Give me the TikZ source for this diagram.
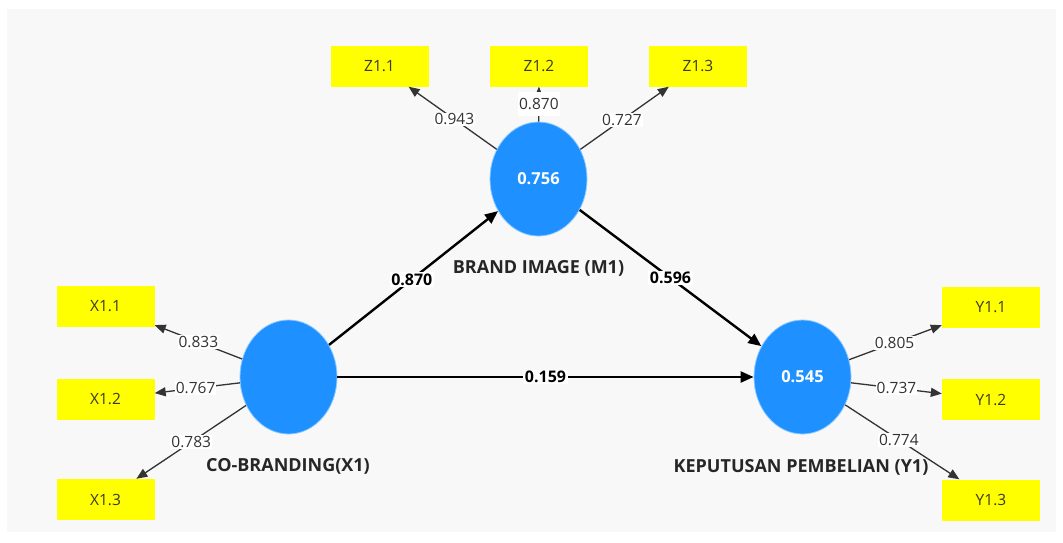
\documentclass[tikz,border=0pt]{standalone}
\usepackage{fontspec}
\setmainfont{Open Sans}
\usetikzlibrary{shapes.geometric,arrows.meta}
\definecolor{panel}{HTML}{F8F8F8}
\definecolor{lv}{HTML}{1E90FF}
\definecolor{lvrim}{HTML}{8CCBFF}
\definecolor{ind}{HTML}{FFFF00}
\definecolor{indtext}{HTML}{3A3A2A}
\definecolor{loadline}{HTML}{333333}
\tikzset{
  latent/.style={ellipse, fill=lv, draw=lvrim, line width=0.8pt,
    minimum width=97pt, minimum height=114pt, inner sep=0pt,
    text=white, font=\bfseries\fontsize{16.5}{19}\selectfont},
  indicator/.style={rectangle, fill=ind, minimum width=98pt, minimum height=41pt,
    inner sep=0pt, text=indtext, font=\fontsize{15.5}{18}\selectfont},
  caption/.style={font=\bfseries\fontsize{18}{21}\selectfont, text=black!85},
  structpath/.style={line width=2.4pt, -{Triangle[length=13pt,width=11pt]}},
  loading/.style={line width=1.3pt, draw=loadline, -{Triangle[length=11pt,width=9pt]}},
  pathlbl/.style={fill=white, inner sep=1.5pt, font=\bfseries\fontsize{16}{19}\selectfont},
  loadlbl/.style={fill=white, inner sep=1pt, text=loadline, font=\fontsize{15.5}{18}\selectfont},
}
\begin{document}
\begin{tikzpicture}[x=1pt,y=-1pt]
  % canvas
  \fill[white] (0,0) rectangle (1063,542);
  \fill[panel] (7,9) rectangle (1056,532);

  % latent variables
  \node[latent] (M1) at (538.5,179) {0.756};
  \node[latent] (X1) at (288.5,377) {};
  \node[latent] (Y1) at (802.5,377) {0.545};

  % construct names
  \node[caption] (capM) at (538.5,268) {BRAND IMAGE (M1)};
  \node[caption] (capX) at (288,466) {CO-BRANDING(X1)};
  \node[caption] (capY) at (801,467) {KEPUTUSAN PEMBELIAN (Y1)};

  % indicators
  \node[indicator] (Z11) at (379.5,66) {Z1.1};
  \node[indicator] (Z12) at (539,66) {Z1.2};
  \node[indicator] (Z13) at (698,66) {Z1.3};
  \node[indicator] (X11) at (105.5,306) {X1.1};
  \node[indicator] (X12) at (105.5,399) {X1.2};
  \node[indicator] (X13) at (105.5,499.5) {X1.3};
  \node[indicator] (Y11) at (991,307) {Y1.1};
  \node[indicator] (Y12) at (991,399.5) {Y1.2};
  \node[indicator] (Y13) at (991,500) {Y1.3};

  % outer loadings
  \draw[loading] (M1) -- node[loadlbl, pos=0.48] {0.943} (Z11);
  \draw[loading] (M1) -- node[loadlbl, pos=0.5, inner ysep=6pt] {0.870} (Z12);
  \draw[loading] (M1) -- node[loadlbl, pos=0.47] {0.727} (Z13);
  \draw[loading] (X1) -- node[loadlbl, pos=0.5] {0.833} (X11);
  \draw[loading] (X1) -- node[loadlbl, pos=0.52] {0.767} (X12);
  \draw[loading] (X1) -- node[loadlbl, pos=0.5] {0.783} (X13);
  \draw[loading] (Y1) -- node[loadlbl, pos=0.49] {0.805} (Y11);
  \draw[loading] (Y1) -- node[loadlbl, pos=0.5] {0.737} (Y12);
  \draw[loading] (Y1) -- node[loadlbl, pos=0.47] {0.774} (Y13);

  % structural paths
  \draw[structpath] (X1) -- node[pathlbl, pos=0.49] {0.870} (M1);
  \draw[structpath] (M1) -- node[pathlbl, pos=0.5] {0.596} (Y1);
  \draw[structpath] (X1) -- node[pathlbl, pos=0.5] {0.159} (Y1);
\end{tikzpicture}
\end{document}
